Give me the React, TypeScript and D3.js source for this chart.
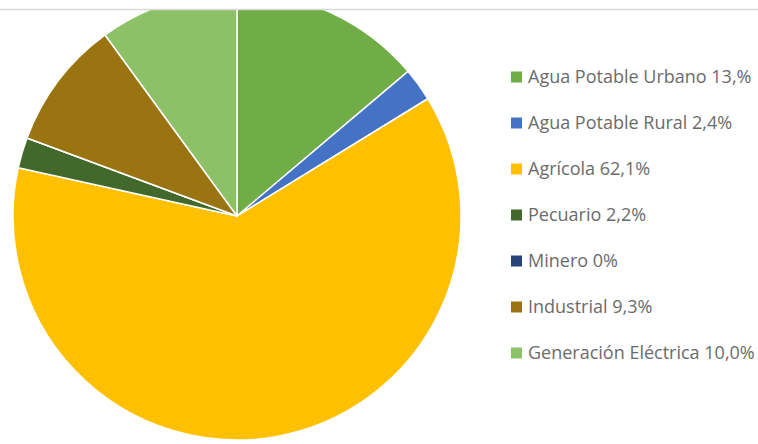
import React from "react";
import * as d3 from "d3";

const categories = [
  "Agua Potable Urbano 13,%",
  "Agua Potable Rural 2,4%",
  "Agrícola 62,1%",
  "Pecuario 2,2%",
  "Minero 0%",
  "Industrial 9,3%",
  "Generación Eléctrica 10,0%",
];
const values = [13.8, 2.4, 62.1, 2.2, 0, 9.3, 10.0];
const colors = ["#70AD47", "#4472C4", "#FFC000", "#43682B", "#264478", "#9A7410", "#8CC168"];

export default function App() {
  const W = 758, H = 444;
  const cx = 237, cy = 216, r = 224;
  const pie = d3.pie<number>().sort(null).value((d) => d)(values);
  const arc = d3.arc<d3.PieArcDatum<number>>().innerRadius(0).outerRadius(r);
  const legendY = d3.scalePoint<number>().domain(d3.range(categories.length)).range([77, 353]);
  return (
    <svg width={W} height={H} style={{ position: "absolute", left: 0, top: 0, background: "#fff" }}>
      <defs>
        <clipPath id="clip">
          <rect x={0} y={10} width={W} height={H - 10} />
        </clipPath>
      </defs>
      <g clipPath="url(#clip)">
        <g transform={`translate(${cx},${cy})`}>
          {pie.map((p, i) => (
            <path key={i} d={arc(p) || ""} fill={colors[i]} stroke="#fff" strokeWidth={1.5} strokeLinejoin="round" />
          ))}
        </g>
      </g>
      <line x1={0} x2={W} y1={9.5} y2={9.5} stroke="#d9d9d9" strokeWidth={1.5} />
      <g fontFamily="'Open Sans', sans-serif" fontSize={18} fill="#6b6b6b">
        {categories.map((c, i) => (
          <g key={i} transform={`translate(511,${legendY(i)})`}>
            <rect x={0} y={-5.5} width={11} height={11} fill={colors[i]} />
            <text x={17} y={0} dy="0.35em" textLength={undefined}>{c}</text>
          </g>
        ))}
      </g>
    </svg>
  );
}
